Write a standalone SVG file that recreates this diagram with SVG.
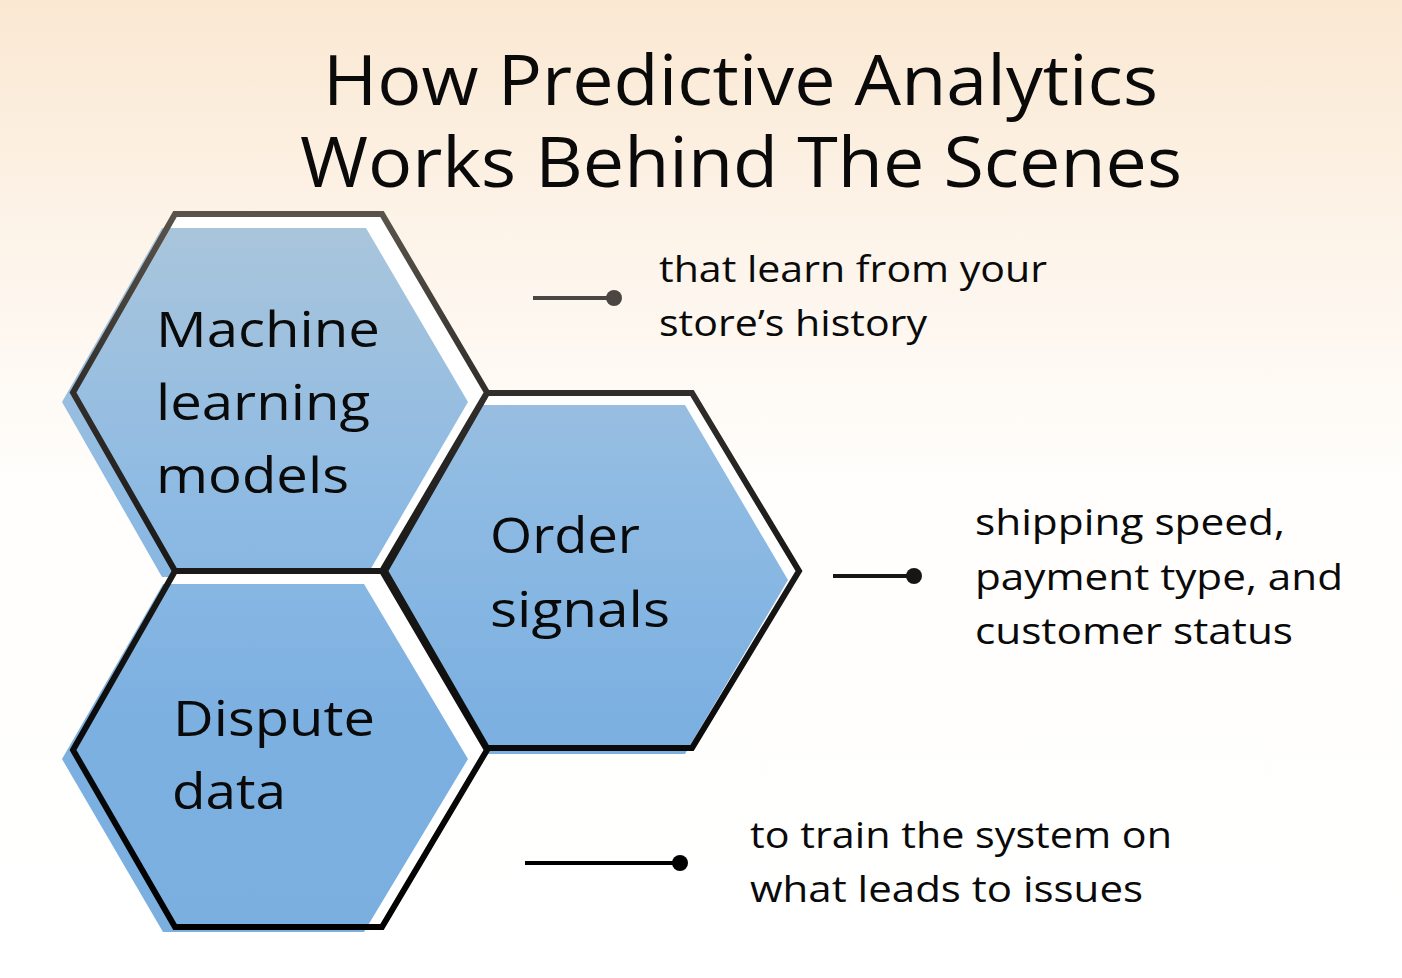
<svg xmlns="http://www.w3.org/2000/svg" width="1402" height="978" viewBox="0 0 1402 978">
<defs>
<linearGradient id="bg" x1="0" y1="0" x2="0" y2="978" gradientUnits="userSpaceOnUse">
<stop offset="0" stop-color="#fae8d2"/>
<stop offset="0.25" stop-color="#fdf4ea"/>
<stop offset="0.5" stop-color="#fffefc"/>
<stop offset="1" stop-color="#ffffff"/>
</linearGradient>
<linearGradient id="hexfill" x1="0" y1="228" x2="0" y2="932" gradientUnits="userSpaceOnUse">
<stop offset="0" stop-color="#a9c5dc"/>
<stop offset="0.4" stop-color="#8dbae3"/>
<stop offset="0.7" stop-color="#7cb0e1"/>
<stop offset="1" stop-color="#7aafe0"/>
</linearGradient>
<linearGradient id="hexstroke" x1="0" y1="210" x2="0" y2="930" gradientUnits="userSpaceOnUse">
<stop offset="0" stop-color="#5a544b"/>
<stop offset="0.26" stop-color="#302d2a"/>
<stop offset="0.5" stop-color="#1a1918"/>
<stop offset="0.75" stop-color="#0a0a0a"/>
<stop offset="1" stop-color="#000000"/>
</linearGradient>
<style>
.under{fill:#ffffff;stroke:none}
.fill{fill:url(#hexfill);stroke:none}
.outline{fill:none;stroke:url(#hexstroke);stroke-width:6;stroke-linejoin:miter}
.title{font-family:"Open Sans","DejaVu Sans",sans-serif;font-size:70px;fill:#0a0a0a}
.label{font-family:"Open Sans","DejaVu Sans",sans-serif;font-size:49px;fill:#0a0a0a}
.note{font-family:"Open Sans","DejaVu Sans",sans-serif;font-size:37px;fill:#0a0a0a}
.conn{stroke-width:4;fill:none}
</style>
</defs>
<rect x="0" y="0" width="1402" height="978" fill="url(#bg)"/>

<g id="title">
<text class="title" x="323" y="105" textLength="835" lengthAdjust="spacingAndGlyphs">How Predictive Analytics</text>
<text class="title" x="300" y="187" textLength="882" lengthAdjust="spacingAndGlyphs">Works Behind The Scenes</text>
</g>

<g id="hex-order-signals">
<polygon class="under" points="487,393 692,393 799,571 692,748 487,748 385,571"/>
<polygon class="fill" points="483,405 685,405 788,580 685,754 483,754 382,580"/>
<polygon class="outline" points="487,393 692,393 799,571 692,748 487,748 385,571"/>
<text class="label" x="490" y="553" textLength="150" lengthAdjust="spacingAndGlyphs">Order</text>
<text class="label" x="490" y="627" textLength="180" lengthAdjust="spacingAndGlyphs">signals</text>
</g>

<g id="hex-machine-learning">
<polygon class="under" points="175,214 382,214 487,392.5 382,571 175,571 73,392.5"/>
<polygon class="fill" points="162,228 366,228 468,402 366,577 162,577 62,402"/>
<polygon class="outline" points="175,214 382,214 487,392.5 382,571 175,571 73,392.5"/>
<text class="label" x="156" y="347" textLength="224" lengthAdjust="spacingAndGlyphs">Machine</text>
<text class="label" x="156" y="420" textLength="214" lengthAdjust="spacingAndGlyphs">learning</text>
<text class="label" x="156" y="493" textLength="193" lengthAdjust="spacingAndGlyphs">models</text>
</g>

<g id="hex-dispute-data">
<polygon class="under" points="175,571 382,571 487,750 382,927 175,927 73,750"/>
<polygon class="fill" points="163,584 364,584 468,759 364,932 163,932 62,759"/>
<polygon class="outline" points="175,571 382,571 487,750 382,927 175,927 73,750"/>
<text class="label" x="173" y="736" textLength="202" lengthAdjust="spacingAndGlyphs">Dispute</text>
<text class="label" x="172" y="809" textLength="114" lengthAdjust="spacingAndGlyphs">data</text>
</g>

<g id="connectors">
<line class="conn" x1="533" y1="298" x2="614" y2="298" stroke="#4b4641"/>
<circle cx="614" cy="298" r="8" fill="#4b4641"/>
<line class="conn" x1="833" y1="576" x2="914" y2="576" stroke="#161616"/>
<circle cx="914" cy="576" r="8" fill="#161616"/>
<line class="conn" x1="525" y1="863" x2="680" y2="863" stroke="#000000" stroke-width="4.5"/>
<circle cx="680" cy="863" r="8" fill="#000000"/>
</g>

<g id="note-machine">
<text class="note" x="659" y="282" textLength="388" lengthAdjust="spacingAndGlyphs">that learn from your</text>
<text class="note" x="659" y="336" textLength="268" lengthAdjust="spacingAndGlyphs">store’s history</text>
</g>

<g id="note-order">
<text class="note" x="975" y="535" textLength="310" lengthAdjust="spacingAndGlyphs">shipping speed,</text>
<text class="note" x="975" y="590" textLength="368" lengthAdjust="spacingAndGlyphs">payment type, and</text>
<text class="note" x="975" y="644" textLength="318" lengthAdjust="spacingAndGlyphs">customer status</text>
</g>

<g id="note-dispute">
<text class="note" x="750" y="848" textLength="422" lengthAdjust="spacingAndGlyphs">to train the system on</text>
<text class="note" x="750" y="902" textLength="393" lengthAdjust="spacingAndGlyphs">what leads to issues</text>
</g>
</svg>
